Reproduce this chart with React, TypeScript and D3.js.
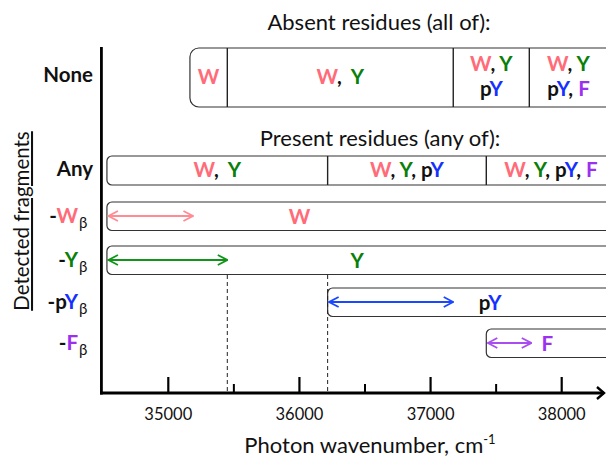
import React from "react";
import * as d3 from "d3";

// wavenumber ticks
const majorTicks = [35000, 36000, 37000, 38000];
const minorTicks = [35500, 36500, 37500];
const axisDomain = [34490, 38350];
const dashedAt = [35450, 36215];

const COLORS: Record<string, string> = {
  W: "#ff6b78",
  Y: "#0a800a",
  pY: "#1530ff",
  F: "#9b30f0",
  k: "#111",
};
const ARROW_COLORS: Record<string, string> = {
  W: "#ff8c94",
  Y: "#12941a",
  pY: "#1a48ff",
  F: "#a84ef0",
};

const SEP = ",\u00a0 ";

// "None" row: absent residues (all of)
const noneEdges = [35165, 35450, 37173, 37753, 38350];
const noneCells = [
  [[["W", "W"]]],
  [[["W", "W"], ["k", SEP], ["Y", "Y"]]],
  [[["W", "W"], ["k", ", "], ["Y", "Y"]], [["k", "p"], ["pY", "Y"]]],
  [[["W", "W"], ["k", ", "], ["Y", "Y"]], [["k", "p"], ["pY", "Y"], ["k", ", "], ["F", "F"]]],
];

// "Any" row: present residues (any of)
const anyEdges = [34532, 36215, 37425, 38350];
const anyCells = [
  [["W", "W"], ["k", SEP], ["Y", "Y"]],
  [["W", "W"], ["k", ", "], ["Y", "Y"], ["k", ", p"], ["pY", "Y"]],
  [["W", "W"], ["k", ", "], ["Y", "Y"], ["k", ", p"], ["pY", "Y"], ["k", ", "], ["F", "F"]],
];

// fragment rows
const fragKeys = ["W", "Y", "pY", "F"];
const fragStart = [34532, 34532, 36215, 37425];
const fragArrowEnd = [35188, 35450, 37173, 37768];
const fragLabelAt = [36000, 36440, 37454, 37890];
const fragLabels = [
  [["W", "W"]],
  [["Y", "Y"]],
  [["k", "p"], ["pY", "Y"]],
  [["F", "F"]],
];
const rowTitles = [
  [["k", "-"], ["W", "W"]],
  [["k", "-"], ["Y", "Y"]],
  [["k", "-p"], ["pY", "Y"]],
  [["k", "-"], ["F", "F"]],
];

const W = 606;
const H = 457;
const FONT = "Lato, 'Open Sans', sans-serif";
const LBL = 20.5;

const x = d3.scaleLinear().domain([35000, 38000]).range([168.3, 561.7]);
const axisY = 393;
const axisX = x(axisDomain[0]);

const fragRows = d3.scaleOrdinal<string, number>().domain(fragKeys).range([216, 260, 302, 343]);

const Segs = ({ segs }: { segs: string[][] }) => (
  <>
    {segs.map(([c, t], i) => (
      <tspan key={i} fill={COLORS[c]}>
        {t}
      </tspan>
    ))}
  </>
);

export default function App() {
  const boxEnd = x(axisDomain[1]);
  return (
    <svg
      width={W}
      height={H}
      style={{ position: "absolute", left: 0, top: 0, background: "#fff" }}
      fontFamily={FONT}
    >
      <defs>
        {fragKeys.map((k) => (
          <marker
            key={k}
            id={`arr-${k}`}
            viewBox="0 0 12 12"
            refX={11}
            refY={6}
            markerWidth={12}
            markerHeight={12}
            orient="auto-start-reverse"
            markerUnits="userSpaceOnUse"
          >
            <path d="M1.5,1 L11,6 L1.5,11" fill="none" stroke={ARROW_COLORS[k]} strokeWidth={1.8} />
          </marker>
        ))}
      </defs>

      {/* titles */}
      <text x={379} y={30} textAnchor="middle" fontSize={22} fill="#111">
        Absent residues (all of):
      </text>
      <text x={380} y={146} textAnchor="middle" fontSize={22} fill="#111">
        Present residues (any of):
      </text>

      {/* None row */}
      <rect
        x={x(noneEdges[0])}
        y={48}
        width={boxEnd - x(noneEdges[0]) + 20}
        height={59}
        rx={9}
        fill="none"
        stroke="#333"
        strokeWidth={1.2}
      />
      {noneEdges.slice(1, -1).map((v) => (
        <line key={v} x1={x(v)} x2={x(v)} y1={48} y2={107} stroke="#222" strokeWidth={1.4} />
      ))}
      {noneCells.map((lines, i) => {
        const cx = (x(noneEdges[i]) + x(noneEdges[i + 1])) / 2;
        const ys = lines.length === 1 ? [84] : [71, 96];
        return lines.map((segs, j) => (
          <text key={`${i}-${j}`} x={cx} y={ys[j]} textAnchor="middle" fontSize={LBL} fontWeight="bold">
            <Segs segs={segs} />
          </text>
        ));
      })}

      {/* Any row */}
      <rect
        x={x(anyEdges[0])}
        y={156}
        width={boxEnd - x(anyEdges[0]) + 20}
        height={29}
        rx={5}
        fill="none"
        stroke="#333"
        strokeWidth={1.2}
      />
      {anyEdges.slice(1, -1).map((v) => (
        <line key={v} x1={x(v)} x2={x(v)} y1={156} y2={185} stroke="#222" strokeWidth={1.4} />
      ))}
      {anyCells.map((segs, i) => (
        <text
          key={i}
          x={(x(anyEdges[i]) + x(anyEdges[i + 1])) / 2 + (i === 2 ? 4 : 0)}
          y={177}
          textAnchor="middle"
          fontSize={LBL}
          fontWeight="bold"
        >
          <Segs segs={segs} />
        </text>
      ))}

      {/* fragment rows */}
      {fragKeys.map((k, i) => {
        const cy = fragRows(k);
        const x0 = x(fragStart[i]);
        return (
          <g key={k}>
            <rect
              x={x0}
              y={cy - 14}
              width={boxEnd - x0 + 20}
              height={28.5}
              rx={5}
              fill="none"
              stroke="#333"
              strokeWidth={1.2}
            />
            <line
              x1={x0 + 1.5}
              x2={x(fragArrowEnd[i])}
              y1={cy}
              y2={cy}
              stroke={ARROW_COLORS[k]}
              strokeWidth={2}
              markerStart={`url(#arr-${k})`}
              markerEnd={`url(#arr-${k})`}
            />
            <text x={x(fragLabelAt[i])} y={cy + 8} textAnchor="middle" fontSize={LBL} fontWeight="bold">
              <Segs segs={fragLabels[i]} />
            </text>
          </g>
        );
      })}

      {/* row titles */}
      <text x={93} y={82} textAnchor="end" fontSize={LBL} fontWeight="bold" fill="#111">
        None
      </text>
      <text x={93} y={176} textAnchor="end" fontSize={LBL} fontWeight="bold" fill="#111">
        Any
      </text>
      {fragKeys.map((k, i) => (
        <text key={k} x={78} y={fragRows(k) + 7} textAnchor="end" fontSize={LBL} fontWeight="bold">
          <Segs segs={rowTitles[i]} />
        </text>
      ))}
      {fragKeys.map((k) => (
        <text key={`b-${k}`} x={79} y={fragRows(k) + 12} fontSize={15} fill="#111">
          β
        </text>
      ))}

      {/* dashed guides */}
      {dashedAt.map((v) => (
        <line
          key={v}
          x1={x(v)}
          x2={x(v)}
          y1={275}
          y2={axisY}
          stroke="#222"
          strokeWidth={1}
          strokeDasharray="4,3"
        />
      ))}

      {/* axes */}
      <line x1={axisX} x2={axisX} y1={47} y2={axisY + 1.5} stroke="#000" strokeWidth={2.8} />
      <line x1={axisX - 1.4} x2={W - 2} y1={axisY} y2={axisY} stroke="#000" strokeWidth={2.8} />
      <path
        d={`M${W - 9},${axisY - 6} L${W - 2},${axisY} L${W - 9},${axisY + 6}`}
        fill="none"
        stroke="#000"
        strokeWidth={2.4}
      />
      {majorTicks.map((v) => (
        <g key={v}>
          <line x1={x(v)} x2={x(v)} y1={axisY} y2={axisY - 16} stroke="#000" strokeWidth={2.2} />
          <text x={x(v)} y={axisY + 27} textAnchor="middle" fontSize={16.5} fill="#111">
            {v}
          </text>
        </g>
      ))}
      {minorTicks.map((v) => (
        <line key={v} x1={x(v)} x2={x(v)} y1={axisY} y2={axisY - 9} stroke="#000" strokeWidth={2} />
      ))}

      <text x={370} y={453} textAnchor="middle" fontSize={22} fill="#111">
        Photon wavenumber, cm
        <tspan dy={-9} fontSize={13}>
          -1
        </tspan>
      </text>

      {/* y label */}
      <text
        transform="translate(29,221) rotate(-90)"
        textAnchor="middle"
        fontSize={20.5}
        fill="#111"
        textDecoration="underline"
      >
        Detected fragments
      </text>
    </svg>
  );
}
